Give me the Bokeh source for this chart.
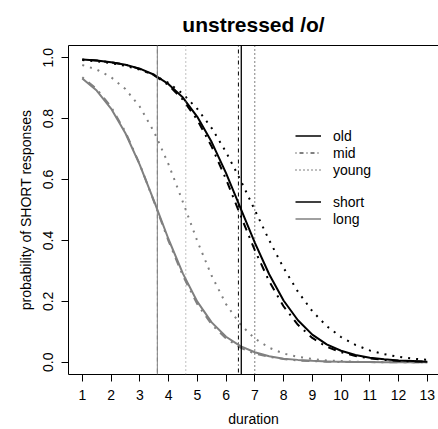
from bokeh.plotting import figure
from bokeh.models import (FixedTicker, PrintfTickFormatter, Span, Legend, LegendItem,
                          LinearAxis, Range1d)
from bokeh.embed import file_html
from bokeh.resources import INLINE

# ---- data ----
duration = [1, 1.5, 2, 2.5, 3, 3.5, 4, 4.5, 5, 5.5, 6, 6.5, 7, 7.5, 8, 8.5, 9,
            9.5, 10, 10.5, 11, 11.5, 12, 12.5, 13]

old_short = [0.994, 0.991, 0.985, 0.977, 0.964, 0.944, 0.913, 0.869, 0.806, 0.723,
             0.621, 0.507, 0.393, 0.289, 0.203, 0.138, 0.091, 0.059, 0.038, 0.024,
             0.015, 0.010, 0.006, 0.004, 0.002]
mid_short = [0.994, 0.991, 0.985, 0.977, 0.963, 0.942, 0.910, 0.862, 0.796, 0.708,
             0.601, 0.483, 0.368, 0.266, 0.184, 0.123, 0.080, 0.051, 0.033, 0.021,
             0.013, 0.008, 0.005, 0.003, 0.002]
young_short = [0.992, 0.988, 0.982, 0.973, 0.961, 0.943, 0.917, 0.881, 0.832, 0.769,
               0.690, 0.599, 0.500, 0.401, 0.310, 0.232, 0.168, 0.119, 0.083, 0.057,
               0.039, 0.027, 0.018, 0.012, 0.008]
old_long = [0.932, 0.892, 0.833, 0.752, 0.648, 0.528, 0.404, 0.291, 0.199, 0.131,
            0.084, 0.053, 0.033, 0.020, 0.012, 0.008, 0.005, 0.003, 0.002, 0.001,
            0.001, 0.000, 0.000, 0.000, 0.000]
mid_long = [0.936, 0.897, 0.839, 0.756, 0.650, 0.526, 0.398, 0.284, 0.191, 0.124,
            0.078, 0.048, 0.029, 0.018, 0.011, 0.006, 0.004, 0.002, 0.001, 0.001,
            0.001, 0.000, 0.000, 0.000, 0.000]
young_long = [0.976, 0.961, 0.936, 0.897, 0.839, 0.756, 0.650, 0.526, 0.398, 0.284,
              0.191, 0.124, 0.078, 0.048, 0.029, 0.018, 0.011, 0.006, 0.004, 0.002,
              0.001, 0.001, 0.001, 0.000, 0.000]

# 50% crossover durations (vertical reference lines)
cross_short = {"old": 6.53, "mid": 6.43, "young": 7.0}
cross_long = {"old": 3.61, "mid": 3.61, "young": 4.60}

x_ticks = [1, 2, 3, 4, 5, 6, 7, 8, 9, 10, 11, 12, 13]
y_ticks = [0.0, 0.2, 0.4, 0.6, 0.8, 1.0]

GRAY = "#808080"
FONT = "Liberation Sans"

p = figure(width=438, height=429, output_backend="svg", toolbar_location=None,
           x_range=Range1d(0.52, 13.39), y_range=Range1d(-0.04, 1.04),
           min_border_left=68, min_border_right=0, min_border_top=43,
           min_border_bottom=52, title="unstressed /o/")
p.outline_line_color = None
p.grid.visible = False
p.background_fill_color = "white"
p.border_fill_color = "white"

p.title.text_font = FONT
p.title.text_font_size = "21px"
p.title.text_font_style = "bold"
p.title.align = "center"
p.title.text_color = "black"
p.title.standoff = 20

for ax in (p.xaxis[0], p.yaxis[0]):
    ax.major_tick_out = 7
    ax.major_tick_in = 0
    ax.minor_tick_line_color = None
    ax.axis_line_color = "black"
    ax.major_tick_line_color = "black"
    ax.major_label_text_font = FONT
    ax.major_label_text_font_size = "14px"
    ax.major_label_text_color = "black"
    ax.axis_label_text_font = FONT
    ax.axis_label_text_font_size = "14px"
    ax.axis_label_text_font_style = "normal"
    ax.axis_label_text_color = "black"

p.xaxis.ticker = FixedTicker(ticks=x_ticks)
p.xaxis.axis_label = "duration"
p.xaxis.major_label_standoff = 8
p.xaxis.axis_label_standoff = 8

p.yaxis.ticker = FixedTicker(ticks=y_ticks)
p.yaxis.formatter = PrintfTickFormatter(format="%.1f")
p.yaxis.major_label_orientation = "vertical"
p.yaxis.axis_label = "probability of SHORT responses"
p.yaxis.major_label_standoff = 8
p.yaxis.axis_label_standoff = 7

top = LinearAxis(ticker=FixedTicker(ticks=[]), axis_line_color="black",
                 major_tick_line_color=None, minor_tick_line_color=None)
p.add_layout(top, "above")

# vertical reference lines
p.add_layout(Span(location=cross_long["old"], dimension="height", line_color=GRAY, line_width=1))
p.add_layout(Span(location=cross_long["mid"], dimension="height", line_color=GRAY, line_width=1,
                  line_dash="1 3 4 3"))
p.add_layout(Span(location=cross_long["young"], dimension="height", line_color=GRAY, line_width=1,
                  line_dash="1 3"))
p.add_layout(Span(location=cross_short["old"], dimension="height", line_color="black", line_width=1.3))
p.add_layout(Span(location=cross_short["mid"], dimension="height", line_color="black", line_width=1,
                  line_dash="1 3 4 3"))
p.add_layout(Span(location=cross_short["young"], dimension="height", line_color="black", line_width=1,
                  line_dash="1 3"))

# curves
p.line(duration, young_long, line_color=GRAY, line_width=2, line_dash="2 6")
p.line(duration, mid_long, line_color=GRAY, line_width=2, line_dash="2 6 8 6")
p.line(duration, old_long, line_color=GRAY, line_width=2)
p.line(duration, young_short, line_color="black", line_width=2, line_dash="2 6")
p.line(duration, mid_short, line_color="black", line_width=2, line_dash="2 6 8 6")
p.line(duration, old_short, line_color="black", line_width=2)

# legend key renderers (single point lines: nothing drawn, only used for the keys)
k_old = p.line(duration[:1], old_short[:1], line_color="black", line_width=1.5)
k_mid = p.line(duration[:1], mid_short[:1], line_color="black", line_width=1, line_dash="1 3 4 3")
k_young = p.line(duration[:1], young_short[:1], line_color="black", line_width=1, line_dash="1 3")
k_short = p.line(duration[:1], old_short[:1], line_color="black", line_width=1.5)
k_long = p.line(duration[:1], old_long[:1], line_color=GRAY, line_width=1.5)


def make_legend(items, loc):
    lg = Legend(items=items, location=loc, padding=0, margin=0, spacing=0,
                glyph_width=26, glyph_height=17, label_height=17, label_standoff=12,
                border_line_color=None, background_fill_alpha=0,
                label_text_font=FONT, label_text_font_size="14px", label_text_color="black")
    return lg


p.add_layout(make_legend([LegendItem(label="old", renderers=[k_old]),
                          LegendItem(label="mid", renderers=[k_mid]),
                          LegendItem(label="young", renderers=[k_young])], (227, 196)))
p.add_layout(make_legend([LegendItem(label="short", renderers=[k_short]),
                          LegendItem(label="long", renderers=[k_long])], (227, 147)))

open("out.html", "w").write(file_html(p, INLINE))
